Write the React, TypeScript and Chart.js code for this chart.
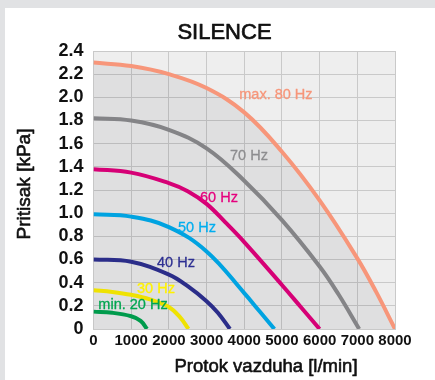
import React, { useEffect, useRef } from "react";
import { Chart, registerables } from "chart.js";

Chart.register(...registerables);

const chartTitle = "SILENCE";
const xTitle = "Protok vazduha [l/min]";
const yTitle = "Pritisak [kPa]";

const xTicks = [0, 1000, 2000, 3000, 4000, 5000, 6000, 7000, 8000];
const yTicks = [0, 0.2, 0.4, 0.6, 0.8, 1.0, 1.2, 1.4, 1.6, 1.8, 2.0, 2.2, 2.4];

const flow80 = [0, 1000, 2000, 3000, 4000, 5000, 6000, 7000, 7500, 8000];
const press80 = [2.3, 2.27, 2.2, 2.08, 1.87, 1.53, 1.11, 0.61, 0.32, 0];
const flow70 = [0, 1000, 2000, 3000, 4000, 5000, 6000, 6500, 7050];
const press70 = [1.82, 1.8, 1.72, 1.56, 1.28, 0.94, 0.54, 0.3, 0];
const flow60 = [0, 1000, 2000, 2500, 3000, 3500, 4000, 5000, 5500, 6000];
const press60 = [1.38, 1.35, 1.26, 1.19, 1.08, 0.92, 0.75, 0.38, 0.19, 0];
const flow50 = [0, 1000, 2000, 3000, 4000, 4400, 4800];
const press50 = [0.99, 0.97, 0.88, 0.67, 0.31, 0.155, 0];
const flow40 = [0, 1000, 2000, 2500, 3000, 3300, 3620];
const press40 = [0.6, 0.58, 0.47, 0.37, 0.24, 0.14, 0];
const flow30 = [0, 500, 1000, 1500, 2000, 2300, 2520];
const press30 = [0.335, 0.32, 0.295, 0.255, 0.19, 0.1, 0];
const flow20 = [0, 500, 1000, 1250, 1420];
const press20 = [0.15, 0.14, 0.11, 0.07, 0];

const seriesNames = ["max. 80 Hz", "70 Hz", "60 Hz", "50 Hz", "40 Hz", "30 Hz", "min. 20 Hz"];
const seriesColors = ["#f7967a", "#8d8d8f", "#e5007d", "#00aeef", "#2e3092", "#fff200", "#00a650"];
const seriesFlows = [flow80, flow70, flow60, flow50, flow40, flow30, flow20];
const seriesPress = [press80, press70, press60, press50, press40, press30, press20];
const labelFlow = [4840, 4125, 3329, 2745, 2188, 1658, 1048];
const labelPress = [2.02, 1.494, 1.128, 0.875, 0.567, 0.343, 0.207];

const FONT = "'Liberation Sans', Arial, Helvetica, sans-serif";

function mediumText(ctx: CanvasRenderingContext2D, text: string, x: number, y: number, color: string, w: number) {
  ctx.fillStyle = color;
  ctx.strokeStyle = color;
  ctx.lineWidth = w;
  ctx.lineJoin = "round";
  ctx.fillText(text, x, y);
  ctx.strokeText(text, x, y);
}

const decor = {
  id: "decor",
  beforeDraw(chart: any) {
    const { ctx, chartArea: a } = chart;
    ctx.save();
    ctx.fillStyle = "#eeeeee";
    ctx.fillRect(a.left, a.top, a.right - a.left, a.bottom - a.top);
    ctx.restore();
  },
  afterDatasetsDraw(chart: any) {
    const { ctx } = chart;
    const xs = chart.scales.x;
    const ys = chart.scales.y;
    ctx.save();
    ctx.font = `14.5px ${FONT}`;
    ctx.textAlign = "center";
    ctx.textBaseline = "middle";
    seriesNames.forEach((name, i) => {
      mediumText(ctx, name, xs.getPixelForValue(labelFlow[i]), ys.getPixelForValue(labelPress[i]), seriesColors[i], 0.3);
    });
    ctx.restore();
  },
  afterDraw(chart: any) {
    const { ctx } = chart;
    ctx.save();
    ctx.textAlign = "center";
    ctx.textBaseline = "middle";
    ctx.font = `22px ${FONT}`;
    mediumText(ctx, chartTitle, 224.5, 33, "#111111", 0.7);
    ctx.font = `18.5px ${FONT}`;
    mediumText(ctx, xTitle, 266, 366.5, "#111111", 0.6);
    ctx.translate(25, 184);
    ctx.rotate(-Math.PI / 2);
    ctx.font = `19px ${FONT}`;
    mediumText(ctx, yTitle, 0, 0, "#111111", 0.6);
    ctx.restore();
  },
};

export default function App() {
  const ref = useRef<HTMLCanvasElement>(null);
  useEffect(() => {
    if (!ref.current) return;
    Chart.defaults.font.family = FONT;
    const datasets = seriesNames.map((name, i) => ({
      label: name,
      data: seriesFlows[i].map((x, j) => ({ x, y: seriesPress[i][j] })),
      borderColor: seriesColors[i],
      backgroundColor: i === 0 ? "rgba(0,0,12,0.062)" : "transparent",
      fill: i === 0 ? "origin" : false,
      borderWidth: 4,
      pointRadius: 0,
      tension: 0.4,
    }));
    const chart = new Chart(ref.current, {
      type: "line",
      data: { datasets },
      options: {
        animation: false,
        responsive: false,
        layout: { padding: { left: 0, right: 40, top: 51, bottom: 0 } },
        plugins: { legend: { display: false }, tooltip: { enabled: false }, title: { display: false } },
        scales: {
          x: {
            type: "linear",
            min: 0,
            max: 8000,
            afterBuildTicks: (s: any) => {
              s.ticks = xTicks.map((v) => ({ value: v }));
            },
            afterFit: (s: any) => {
              s.height = 51;
            },
            grid: { color: "#c9c9c9", drawTicks: false, lineWidth: 1 },
            border: { color: "#c9c9c9" },
            ticks: {
              padding: 3,
              color: "#111111",
              font: { size: 15, weight: "bold" },
              maxRotation: 0,
              autoSkip: false,
              callback: (v: any) => String(v),
            },
          },
          y: {
            type: "linear",
            min: 0,
            max: 2.4,
            afterBuildTicks: (s: any) => {
              s.ticks = yTicks.map((v) => ({ value: v }));
            },
            afterFit: (s: any) => {
              s.width = 93.5;
            },
            grid: { color: "#c9c9c9", drawTicks: false, lineWidth: 1 },
            border: { color: "#c9c9c9" },
            ticks: {
              padding: 10,
              color: "#111111",
              font: { size: 18, weight: "bold" },
              autoSkip: false,
              callback: (v: any) => (v === 0 ? "0" : Number(v).toFixed(1)),
            },
          },
        },
      },
      plugins: [decor],
    });
    return () => chart.destroy();
  }, []);

  return (
    <div style={{ position: "fixed", left: 0, top: 0, width: 435, height: 380, background: "#e1e2e4" }}>
      <div style={{ position: "absolute", left: 5, top: 8, right: 0, bottom: 0, background: "#ffffff" }} />
      <canvas ref={ref} width={435} height={380} style={{ position: "absolute", left: 0, top: 0, width: 435, height: 380 }} />
    </div>
  );
}
